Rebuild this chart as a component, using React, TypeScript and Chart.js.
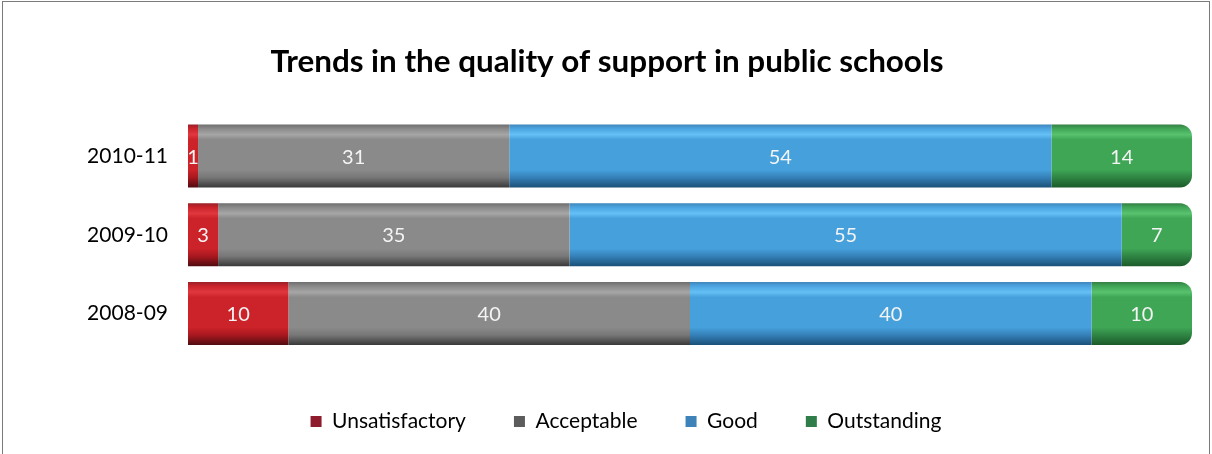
import React, { useEffect, useRef } from "react";
import { Chart, registerables } from "chart.js";

Chart.register(...registerables);

const TITLE = "Trends in the quality of support in public schools";
const CATEGORIES = ["2010-11", "2009-10", "2008-09"];
const UNSATISFACTORY = [1, 3, 10];
const ACCEPTABLE = [31, 35, 40];
const GOOD = [54, 55, 40];
const OUTSTANDING = [14, 7, 10];
const SERIES_NAMES = ["Unsatisfactory", "Acceptable", "Good", "Outstanding"];

const FONT = "Lato, 'Open Sans', sans-serif";

// [topEdge, base, highlight, base, lowerBase, shadow]
const PALETTES = [
  ["#9a2028", "#c8222a", "#e0383e", "#cc2229", "#a8181f", "#4e0c10"],
  ["#6e6e6e", "#888888", "#a6a6a6", "#8a8a8a", "#777777", "#383838"],
  ["#3f86bb", "#4aa3df", "#64c0f5", "#45a0dc", "#3580b8", "#1a5077"],
  ["#357f45", "#3fa455", "#58c26f", "#3ea655", "#2f8443", "#1b5a29"],
];
const LEGEND_COLORS = ["#8e1c2c", "#5c5c5c", "#3d82b8", "#2f7d48"];

function makeGradient(ctx: any, chart: any, seriesIdx: number) {
  const c = chart.chart || chart;
  const yScale = c.scales && c.scales.y;
  const idx = ctx.dataIndex;
  if (!yScale || idx === undefined) return PALETTES[seriesIdx][1];
  const center = yScale.getPixelForValue(idx);
  const half = (yScale.height / CATEGORIES.length) * 0.4;
  const top = center - half;
  const bottom = center + half;
  const g = c.ctx.createLinearGradient(0, top, 0, bottom);
  const p = PALETTES[seriesIdx];
  g.addColorStop(0, p[0]);
  g.addColorStop(0.06, p[1]);
  g.addColorStop(0.16, p[2]);
  g.addColorStop(0.24, p[3]);
  g.addColorStop(0.72, p[3]);
  g.addColorStop(0.84, p[4]);
  g.addColorStop(1, p[5]);
  return g;
}

const valueLabels = {
  id: "valueLabels",
  afterDatasetsDraw(chart: any) {
    const ctx = chart.ctx;
    ctx.save();
    ctx.font = `20px ${FONT}`;
    ctx.fillStyle = "#f4f4f4";
    ctx.textAlign = "center";
    ctx.textBaseline = "middle";
    chart.data.datasets.forEach((ds: any, di: number) => {
      const meta = chart.getDatasetMeta(di);
      meta.data.forEach((el: any, i: number) => {
        const v = ds.data[i];
        const cx = (el.x + el.base) / 2;
        ctx.fillText(String(v), cx, el.y + 1);
      });
    });
    ctx.restore();
  },
};

const blockShift = {
  id: "blockShift",
  afterLayout(chart: any) {
    if (chart.legend) {
      chart.legend.left += 30;
      chart.legend.right += 30;
    }
    if (chart.titleBlock) {
      chart.titleBlock.left += 11;
      chart.titleBlock.right += 11;
    }
  },
};

export default function App() {
  const ref = useRef<HTMLCanvasElement | null>(null);

  useEffect(() => {
    document.body.style.margin = "0";
    const series = [UNSATISFACTORY, ACCEPTABLE, GOOD, OUTSTANDING];
    const chart = new Chart(ref.current as HTMLCanvasElement, {
      type: "bar",
      data: {
        labels: CATEGORIES,
        datasets: series.map((d, i) => ({
          label: SERIES_NAMES[i],
          data: d,
          backgroundColor: (ctx: any) => makeGradient(ctx, ctx.chart, i),
          borderWidth: 0,
          borderRadius:
            i === series.length - 1
              ? { topLeft: 0, bottomLeft: 0, topRight: 12, bottomRight: 12 }
              : 0,
          borderSkipped: false,
          categoryPercentage: 0.8,
          barPercentage: 1.0,
        })),
      },
      options: {
        indexAxis: "y",
        animation: false,
        responsive: false,
        maintainAspectRatio: false,
        layout: { padding: { left: 0, right: 20, top: 0, bottom: 12 } },
        scales: {
          x: {
            stacked: true,
            min: 0,
            max: 100,
            display: true,
            ticks: { display: false },
            grid: { display: false, drawTicks: false },
            border: { display: false },
            afterFit(scale: any) {
              scale.height = 10;
            },
          },
          y: {
            stacked: true,
            grid: { display: false },
            border: { display: false },
            ticks: {
              color: "#000",
              font: { family: FONT, size: 21 },
              padding: 12,
            },
            afterFit(scale: any) {
              scale.width = 188;
            },
          },
        },
        plugins: {
          title: {
            display: true,
            text: TITLE,
            color: "#000",
            font: { family: FONT, size: 31.4, weight: "bold" },
            padding: { top: 43, bottom: 36 },
          },
          legend: {
            position: "bottom",
            labels: {
              boxWidth: 11,
              boxHeight: 11,
              padding: 48,
              color: "#000",
              font: { family: FONT, size: 21 },
              generateLabels: (c: any) =>
                c.data.datasets.map((ds: any, i: number) => ({
                  text: ds.label,
                  fillStyle: LEGEND_COLORS[i],
                  strokeStyle: LEGEND_COLORS[i],
                  lineWidth: 0,
                  hidden: false,
                  datasetIndex: i,
                  fontColor: "#000",
                })),
            },
          },
          tooltip: { enabled: false },
        },
      },
      plugins: [valueLabels, blockShift],
    } as any);
    return () => chart.destroy();
  }, []);

  return (
    <div
      style={{
        position: "absolute",
        left: 0,
        top: 0,
        width: 1212,
        height: 454,
        overflow: "hidden",
        background: "#fff",
      }}
    >
      <div
        style={{
          position: "absolute",
          left: 2,
          top: 1,
          width: 1206,
          height: 470,
          border: "1px solid #7a7a7a",
        }}
      />
      <canvas
        ref={ref}
        width={1212}
        height={454}
        style={{ position: "absolute", left: 0, top: 0, width: 1212, height: 454 }}
      />
    </div>
  );
}
